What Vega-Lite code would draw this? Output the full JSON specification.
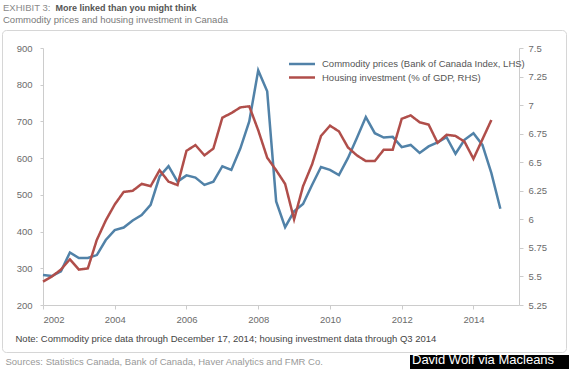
{
  "$schema": "https://vega.github.io/schema/vega-lite/v6.json",
  "width": 476,
  "height": 257,
  "autosize": {"type": "none"},
  "padding": {"left": 43, "top": 48, "right": 51, "bottom": 64},
  "background": "white",
  "title": {
    "text": "EXHIBIT 3:",
    "subtitle": "Commodity prices and housing investment in Canada",
    "anchor": "start",
    "frame": "group",
    "dx": -40,
    "dy": 25,
    "fontSize": 9.5,
    "fontWeight": "normal",
    "color": "#8a8a8a",
    "subtitleColor": "#7a7a7a",
    "subtitleFontSize": 9.5,
    "subtitlePadding": 2,
    "offset": 4
  },
  "config": {
    "font": "Liberation Sans",
    "view": {"stroke": null},
    "axis": {
      "domainColor": "#cccccc",
      "tickColor": "#cccccc",
      "labelColor": "#6b6b6b",
      "labelFontSize": 9.5,
      "labelFont": "Liberation Sans",
      "titleFont": "Liberation Sans",
      "grid": false
    },
    "legend": {"labelFont": "Liberation Sans", "titleFont": "Liberation Sans"}
  },
  "data": {
    "values": [
      {"t": 2002.0, "s": "Commodity prices (Bank of Canada Index, LHS)", "v": 282},
      {"t": 2002.25, "s": "Commodity prices (Bank of Canada Index, LHS)", "v": 279},
      {"t": 2002.5, "s": "Commodity prices (Bank of Canada Index, LHS)", "v": 292},
      {"t": 2002.75, "s": "Commodity prices (Bank of Canada Index, LHS)", "v": 343},
      {"t": 2003.0, "s": "Commodity prices (Bank of Canada Index, LHS)", "v": 328},
      {"t": 2003.25, "s": "Commodity prices (Bank of Canada Index, LHS)", "v": 328},
      {"t": 2003.5, "s": "Commodity prices (Bank of Canada Index, LHS)", "v": 336},
      {"t": 2003.75, "s": "Commodity prices (Bank of Canada Index, LHS)", "v": 377},
      {"t": 2004.0, "s": "Commodity prices (Bank of Canada Index, LHS)", "v": 404},
      {"t": 2004.25, "s": "Commodity prices (Bank of Canada Index, LHS)", "v": 411},
      {"t": 2004.5, "s": "Commodity prices (Bank of Canada Index, LHS)", "v": 430},
      {"t": 2004.75, "s": "Commodity prices (Bank of Canada Index, LHS)", "v": 445},
      {"t": 2005.0, "s": "Commodity prices (Bank of Canada Index, LHS)", "v": 473},
      {"t": 2005.25, "s": "Commodity prices (Bank of Canada Index, LHS)", "v": 550},
      {"t": 2005.5, "s": "Commodity prices (Bank of Canada Index, LHS)", "v": 578},
      {"t": 2005.75, "s": "Commodity prices (Bank of Canada Index, LHS)", "v": 536},
      {"t": 2006.0, "s": "Commodity prices (Bank of Canada Index, LHS)", "v": 553},
      {"t": 2006.25, "s": "Commodity prices (Bank of Canada Index, LHS)", "v": 547},
      {"t": 2006.5, "s": "Commodity prices (Bank of Canada Index, LHS)", "v": 527},
      {"t": 2006.75, "s": "Commodity prices (Bank of Canada Index, LHS)", "v": 536},
      {"t": 2007.0, "s": "Commodity prices (Bank of Canada Index, LHS)", "v": 578},
      {"t": 2007.25, "s": "Commodity prices (Bank of Canada Index, LHS)", "v": 568},
      {"t": 2007.5, "s": "Commodity prices (Bank of Canada Index, LHS)", "v": 626},
      {"t": 2007.75, "s": "Commodity prices (Bank of Canada Index, LHS)", "v": 700},
      {"t": 2008.0, "s": "Commodity prices (Bank of Canada Index, LHS)", "v": 839},
      {"t": 2008.25, "s": "Commodity prices (Bank of Canada Index, LHS)", "v": 782},
      {"t": 2008.5, "s": "Commodity prices (Bank of Canada Index, LHS)", "v": 482},
      {"t": 2008.75, "s": "Commodity prices (Bank of Canada Index, LHS)", "v": 412},
      {"t": 2009.0, "s": "Commodity prices (Bank of Canada Index, LHS)", "v": 455},
      {"t": 2009.25, "s": "Commodity prices (Bank of Canada Index, LHS)", "v": 475},
      {"t": 2009.5, "s": "Commodity prices (Bank of Canada Index, LHS)", "v": 527},
      {"t": 2009.75, "s": "Commodity prices (Bank of Canada Index, LHS)", "v": 576},
      {"t": 2010.0, "s": "Commodity prices (Bank of Canada Index, LHS)", "v": 568},
      {"t": 2010.25, "s": "Commodity prices (Bank of Canada Index, LHS)", "v": 554},
      {"t": 2010.5, "s": "Commodity prices (Bank of Canada Index, LHS)", "v": 600},
      {"t": 2010.75, "s": "Commodity prices (Bank of Canada Index, LHS)", "v": 655},
      {"t": 2011.0, "s": "Commodity prices (Bank of Canada Index, LHS)", "v": 712},
      {"t": 2011.25, "s": "Commodity prices (Bank of Canada Index, LHS)", "v": 668},
      {"t": 2011.5, "s": "Commodity prices (Bank of Canada Index, LHS)", "v": 656},
      {"t": 2011.75, "s": "Commodity prices (Bank of Canada Index, LHS)", "v": 658},
      {"t": 2012.0, "s": "Commodity prices (Bank of Canada Index, LHS)", "v": 630},
      {"t": 2012.25, "s": "Commodity prices (Bank of Canada Index, LHS)", "v": 636},
      {"t": 2012.5, "s": "Commodity prices (Bank of Canada Index, LHS)", "v": 614},
      {"t": 2012.75, "s": "Commodity prices (Bank of Canada Index, LHS)", "v": 632},
      {"t": 2013.0, "s": "Commodity prices (Bank of Canada Index, LHS)", "v": 643},
      {"t": 2013.25, "s": "Commodity prices (Bank of Canada Index, LHS)", "v": 657},
      {"t": 2013.5, "s": "Commodity prices (Bank of Canada Index, LHS)", "v": 612},
      {"t": 2013.75, "s": "Commodity prices (Bank of Canada Index, LHS)", "v": 650},
      {"t": 2014.0, "s": "Commodity prices (Bank of Canada Index, LHS)", "v": 668},
      {"t": 2014.25, "s": "Commodity prices (Bank of Canada Index, LHS)", "v": 636},
      {"t": 2014.5, "s": "Commodity prices (Bank of Canada Index, LHS)", "v": 559},
      {"t": 2014.75, "s": "Commodity prices (Bank of Canada Index, LHS)", "v": 462},
      {"t": 2002.0, "s": "Housing investment (% of GDP, RHS)", "v": 5.455},
      {"t": 2002.25, "s": "Housing investment (% of GDP, RHS)", "v": 5.5},
      {"t": 2002.5, "s": "Housing investment (% of GDP, RHS)", "v": 5.56},
      {"t": 2002.75, "s": "Housing investment (% of GDP, RHS)", "v": 5.65},
      {"t": 2003.0, "s": "Housing investment (% of GDP, RHS)", "v": 5.56},
      {"t": 2003.25, "s": "Housing investment (% of GDP, RHS)", "v": 5.57},
      {"t": 2003.5, "s": "Housing investment (% of GDP, RHS)", "v": 5.82},
      {"t": 2003.75, "s": "Housing investment (% of GDP, RHS)", "v": 5.99},
      {"t": 2004.0, "s": "Housing investment (% of GDP, RHS)", "v": 6.13},
      {"t": 2004.25, "s": "Housing investment (% of GDP, RHS)", "v": 6.24},
      {"t": 2004.5, "s": "Housing investment (% of GDP, RHS)", "v": 6.25},
      {"t": 2004.75, "s": "Housing investment (% of GDP, RHS)", "v": 6.31},
      {"t": 2005.0, "s": "Housing investment (% of GDP, RHS)", "v": 6.29},
      {"t": 2005.25, "s": "Housing investment (% of GDP, RHS)", "v": 6.43},
      {"t": 2005.5, "s": "Housing investment (% of GDP, RHS)", "v": 6.33},
      {"t": 2005.75, "s": "Housing investment (% of GDP, RHS)", "v": 6.3},
      {"t": 2006.0, "s": "Housing investment (% of GDP, RHS)", "v": 6.6},
      {"t": 2006.25, "s": "Housing investment (% of GDP, RHS)", "v": 6.65},
      {"t": 2006.5, "s": "Housing investment (% of GDP, RHS)", "v": 6.56},
      {"t": 2006.75, "s": "Housing investment (% of GDP, RHS)", "v": 6.62},
      {"t": 2007.0, "s": "Housing investment (% of GDP, RHS)", "v": 6.89},
      {"t": 2007.25, "s": "Housing investment (% of GDP, RHS)", "v": 6.93},
      {"t": 2007.5, "s": "Housing investment (% of GDP, RHS)", "v": 6.98},
      {"t": 2007.75, "s": "Housing investment (% of GDP, RHS)", "v": 6.99},
      {"t": 2008.0, "s": "Housing investment (% of GDP, RHS)", "v": 6.78},
      {"t": 2008.25, "s": "Housing investment (% of GDP, RHS)", "v": 6.54},
      {"t": 2008.5, "s": "Housing investment (% of GDP, RHS)", "v": 6.43},
      {"t": 2008.75, "s": "Housing investment (% of GDP, RHS)", "v": 6.31},
      {"t": 2009.0, "s": "Housing investment (% of GDP, RHS)", "v": 6.0},
      {"t": 2009.25, "s": "Housing investment (% of GDP, RHS)", "v": 6.29},
      {"t": 2009.5, "s": "Housing investment (% of GDP, RHS)", "v": 6.48},
      {"t": 2009.75, "s": "Housing investment (% of GDP, RHS)", "v": 6.73},
      {"t": 2010.0, "s": "Housing investment (% of GDP, RHS)", "v": 6.82},
      {"t": 2010.25, "s": "Housing investment (% of GDP, RHS)", "v": 6.77},
      {"t": 2010.5, "s": "Housing investment (% of GDP, RHS)", "v": 6.63},
      {"t": 2010.75, "s": "Housing investment (% of GDP, RHS)", "v": 6.56},
      {"t": 2011.0, "s": "Housing investment (% of GDP, RHS)", "v": 6.51},
      {"t": 2011.25, "s": "Housing investment (% of GDP, RHS)", "v": 6.51},
      {"t": 2011.5, "s": "Housing investment (% of GDP, RHS)", "v": 6.61},
      {"t": 2011.75, "s": "Housing investment (% of GDP, RHS)", "v": 6.61},
      {"t": 2012.0, "s": "Housing investment (% of GDP, RHS)", "v": 6.88},
      {"t": 2012.25, "s": "Housing investment (% of GDP, RHS)", "v": 6.91},
      {"t": 2012.5, "s": "Housing investment (% of GDP, RHS)", "v": 6.85},
      {"t": 2012.75, "s": "Housing investment (% of GDP, RHS)", "v": 6.83},
      {"t": 2013.0, "s": "Housing investment (% of GDP, RHS)", "v": 6.67},
      {"t": 2013.25, "s": "Housing investment (% of GDP, RHS)", "v": 6.74},
      {"t": 2013.5, "s": "Housing investment (% of GDP, RHS)", "v": 6.73},
      {"t": 2013.75, "s": "Housing investment (% of GDP, RHS)", "v": 6.68},
      {"t": 2014.0, "s": "Housing investment (% of GDP, RHS)", "v": 6.53},
      {"t": 2014.25, "s": "Housing investment (% of GDP, RHS)", "v": 6.7},
      {"t": 2014.5, "s": "Housing investment (% of GDP, RHS)", "v": 6.87}
    ]
  },
  "encoding": {
    "x": {
      "field": "t",
      "type": "quantitative",
      "scale": {"domain": [2002, 2015.27], "nice": false, "zero": false},
      "axis": {
        "values": [2002, 2004, 2006, 2008, 2010, 2012, 2014],
        "format": "d",
        "tickSize": 4,
        "labelPadding": 5,
        "title": "Note: Commodity price data through December 17, 2014; housing investment data through Q3 2014",
        "titleX": -28,
        "titleY": 33,
        "titleAlign": "left",
        "titleBaseline": "middle",
        "titleFontSize": 9.5,
        "titleFontWeight": "normal",
        "titleColor": "#444444"
      }
    },
    "color": {
      "field": "s",
      "type": "nominal",
      "scale": {
        "domain": ["Commodity prices (Bank of Canada Index, LHS)", "Housing investment (% of GDP, RHS)"],
        "range": ["#5182a8", "#b04e4a"]
      },
      "legend": {
        "title": null,
        "orient": "none",
        "legendX": 251,
        "legendY": 8,
        "padding": 0,
        "symbolType": "M-2,0H2",
        "symbolSize": 169,
        "symbolStrokeWidth": 2.5,
        "labelFontSize": 9.5,
        "labelColor": "#555555",
        "labelOffset": 12,
        "labelLimit": 400,
        "rowPadding": 0.5
      }
    }
  },
  "layer": [
    {
      "transform": [{"filter": {"field": "s", "equal": "Commodity prices (Bank of Canada Index, LHS)"}}],
      "mark": {"type": "line", "strokeWidth": 2.5},
      "encoding": {
        "y": {
          "field": "v",
          "type": "quantitative",
          "scale": {"domain": [200, 900], "nice": false, "zero": false},
          "axis": {
            "orient": "left",
            "values": [200, 300, 400, 500, 600, 700, 800, 900],
            "tickSize": 3,
            "labelPadding": 8,
            "title": "More linked than you might think",
            "titleAngle": 0,
            "titleX": 12,
            "titleY": -38,
            "titleAlign": "left",
            "titleBaseline": "alphabetic",
            "titleFontSize": 9,
            "titleFontWeight": "bold",
            "titleColor": "#555555"
          }
        }
      }
    },
    {
      "transform": [{"filter": {"field": "s", "equal": "Housing investment (% of GDP, RHS)"}}],
      "mark": {"type": "line", "strokeWidth": 2.5},
      "encoding": {
        "strokeDash": {
          "datum": "credit",
          "type": "nominal",
          "scale": {"range": [[1, 0]]},
          "legend": {
            "orient": "none",
            "legendX": 367,
            "legendY": 307,
            "title": "David Wolf via Macleans",
            "titleOrient": "left",
            "titleColor": "#ffffff",
            "titleFontSize": 13,
            "titleFontWeight": "normal",
            "titleBaseline": "middle",
            "titlePadding": 0,
            "fillColor": "#000000",
            "padding": 2,
            "labelExpr": "''",
            "labelFontSize": 1,
            "labelOffset": 0,
            "symbolSize": 144,
            "symbolOpacity": 0,
            "symbolStrokeWidth": 0
          }
        },
        "y": {
          "field": "v",
          "type": "quantitative",
          "scale": {"domain": [5.25, 7.5], "nice": false, "zero": false},
          "axis": {
            "orient": "right",
            "values": [5.25, 5.5, 5.75, 6, 6.25, 6.5, 6.75, 7, 7.25, 7.5],
            "format": ".3~g",
            "tickSize": 4,
            "labelPadding": 5,
            "title": "Sources: Statistics Canada, Bank of Canada, Haver Analytics and FMR Co.",
            "titleAngle": 0,
            "titleX": -514,
            "titleY": 313,
            "titleAlign": "left",
            "titleBaseline": "middle",
            "titleFontSize": 9.5,
            "titleFontWeight": "normal",
            "titleColor": "#999999"
          }
        }
      }
    },
    {
      "mark": {"type": "point", "opacity": 0},
      "encoding": {
        "fill": {
          "datum": 1,
          "type": "quantitative",
          "scale": {"domain": [0, 1], "range": ["#ffffff", "#ffffff"]},
          "legend": {
            "title": null,
            "orient": "none",
            "direction": "horizontal",
            "legendX": -41,
            "legendY": -18,
            "padding": 0,
            "gradientLength": 564,
            "gradientThickness": 321,
            "gradientOpacity": 0,
            "gradientStrokeWidth": 0,
            "labelExpr": "''",
            "labelFontSize": 1,
            "labelOffset": 0,
            "strokeColor": "#d6d6d6",
            "cornerRadius": 4,
            "zindex": 0
          }
        }
      }
    }
  ],
  "resolve": {"scale": {"y": "independent"}}
}
